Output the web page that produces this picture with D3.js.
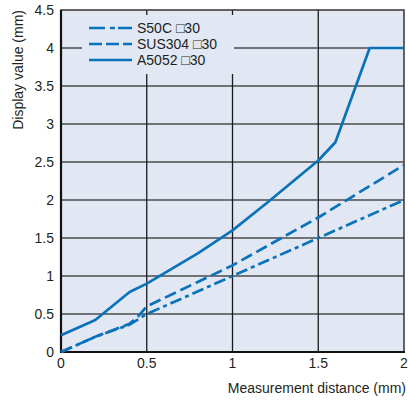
<!DOCTYPE html>
<html lang="en">
<head>
<meta charset="utf-8">
<title>Display value vs measurement distance</title>
<script src="https://cdn.jsdelivr.net/npm/d3@7"></script>
<style>
  body { margin: 0; background: #fff; }
  text { font-family: "Liberation Sans", Arial, sans-serif; fill: #231f20; }
</style>
</head>
<body>
<script>
// data
var seriesNames = ["S50C \u25A130", "SUS304 \u25A130", "A5052 \u25A130"];
var s50cX = [0, 0.05, 0.2, 0.4, 0.5, 1.0, 1.5, 2.0];
var s50cY = [0, 0.05, 0.2, 0.36, 0.5, 1.0, 1.5, 2.0];
var sus304X = [0, 0.05, 0.2, 0.4, 0.45, 0.5, 1.0, 1.5, 2.0];
var sus304Y = [0, 0.05, 0.2, 0.37, 0.47, 0.6, 1.14, 1.77, 2.46];
var a5052X = [0, 0.2, 0.4, 0.5, 0.8, 1.0, 1.2, 1.5, 1.6, 1.8, 2.0];
var a5052Y = [0.22, 0.42, 0.79, 0.9, 1.3, 1.6, 1.96, 2.52, 2.76, 4.0, 4.0];
var xTicks = [0, 0.5, 1, 1.5, 2];
var yTicks = [0, 0.5, 1, 1.5, 2, 2.5, 3, 3.5, 4, 4.5];

var w = 408, h = 400;
var pLeft = 61, pRight = 404, pTop = 10, pBottom = 352;
var blue = "#0a72ba";
var bg = "#e1e8f4";

var x = d3.scaleLinear().domain([0, 2]).range([pLeft, pRight]);
var y = d3.scaleLinear().domain([0, 4.5]).range([pBottom, pTop]);

var svg = d3.select("body").append("svg")
    .attr("width", w)
    .attr("height", h);

// plot background
svg.append("rect")
    .attr("x", pLeft).attr("y", pTop)
    .attr("width", pRight - pLeft).attr("height", pBottom - pTop)
    .attr("fill", bg);

// grid
svg.append("g").selectAll("line")
    .data(yTicks.slice(1, -1))
    .enter().append("line")
    .attr("x1", pLeft).attr("x2", pRight)
    .attr("y1", function(d) { return y(d); })
    .attr("y2", function(d) { return y(d); })
    .attr("stroke", "#4d4d4d")
    .attr("stroke-width", 1.5);

svg.append("g").selectAll("line")
    .data(xTicks.slice(1, -1))
    .enter().append("line")
    .attr("x1", function(d) { return x(d); })
    .attr("x2", function(d) { return x(d); })
    .attr("y1", pTop).attr("y2", pBottom)
    .attr("stroke", "#1a1a1a")
    .attr("stroke-width", 1.3);

// legend box hides the grid behind it
var lg = svg.append("g");
lg.append("rect")
    .attr("x", 82).attr("y", 15)
    .attr("width", 152).attr("height", 59)
    .attr("fill", bg);

// border
svg.append("rect")
    .attr("x", pLeft).attr("y", pTop)
    .attr("width", pRight - pLeft).attr("height", pBottom - pTop)
    .attr("fill", "none")
    .attr("stroke", "#333")
    .attr("stroke-width", 1.5);
svg.append("line")
    .attr("x1", pLeft).attr("x2", pLeft)
    .attr("y1", pTop).attr("y2", pBottom + 1)
    .attr("stroke", "#111").attr("stroke-width", 2.2);
svg.append("line")
    .attr("x1", pLeft - 1).attr("x2", pRight + 1)
    .attr("y1", pBottom).attr("y2", pBottom)
    .attr("stroke", "#111").attr("stroke-width", 2.2);

// series
var series = [
    { name: seriesNames[0], xs: s50cX, ys: s50cY, dash: "12,4,4,4", key: "16,5,5,3,16" },
    { name: seriesNames[1], xs: sus304X, ys: sus304Y, dash: "12,5", key: "13,4" },
    { name: seriesNames[2], xs: a5052X, ys: a5052Y, dash: null, key: null }
];

var line = d3.line()
    .x(function(d) { return x(d[0]); })
    .y(function(d) { return y(d[1]); });

series.forEach(function(s) {
    var pts = s.xs.map(function(v, i) { return [v, s.ys[i]]; });
    svg.append("path")
        .datum(pts)
        .attr("d", line)
        .attr("fill", "none")
        .attr("stroke", blue)
        .attr("stroke-width", 2.7)
        .attr("stroke-linejoin", "round")
        .attr("stroke-dasharray", s.dash);
});

// legend entries
var legendY = [28, 44, 60];
series.forEach(function(s, i) {
    lg.append("line")
        .attr("x1", 89).attr("x2", 132)
        .attr("y1", legendY[i]).attr("y2", legendY[i])
        .attr("stroke", blue)
        .attr("stroke-width", 2.7)
        .attr("stroke-dasharray", s.key);
    lg.append("text")
        .attr("x", 137).attr("y", legendY[i] + 5)
        .attr("font-size", "14px")
        .text(s.name);
});

// tick labels
svg.append("g").selectAll("text")
    .data(yTicks)
    .enter().append("text")
    .attr("x", 54)
    .attr("y", function(d) { return y(d) + 5; })
    .attr("text-anchor", "end")
    .attr("font-size", "14px")
    .text(function(d) { return d; });

svg.append("g").selectAll("text")
    .data(xTicks)
    .enter().append("text")
    .attr("x", function(d) { return x(d); })
    .attr("y", 368)
    .attr("text-anchor", "middle")
    .attr("font-size", "14px")
    .text(function(d) { return d; });

// axis titles
svg.append("text")
    .attr("x", 406).attr("y", 393)
    .attr("text-anchor", "end")
    .attr("font-size", "14px")
    .text("Measurement distance (mm)");

svg.append("text")
    .attr("transform", "translate(23,10) rotate(-90)")
    .attr("text-anchor", "end")
    .attr("font-size", "14px")
    .text("Display value (mm)");
</script>
</body>
</html>
